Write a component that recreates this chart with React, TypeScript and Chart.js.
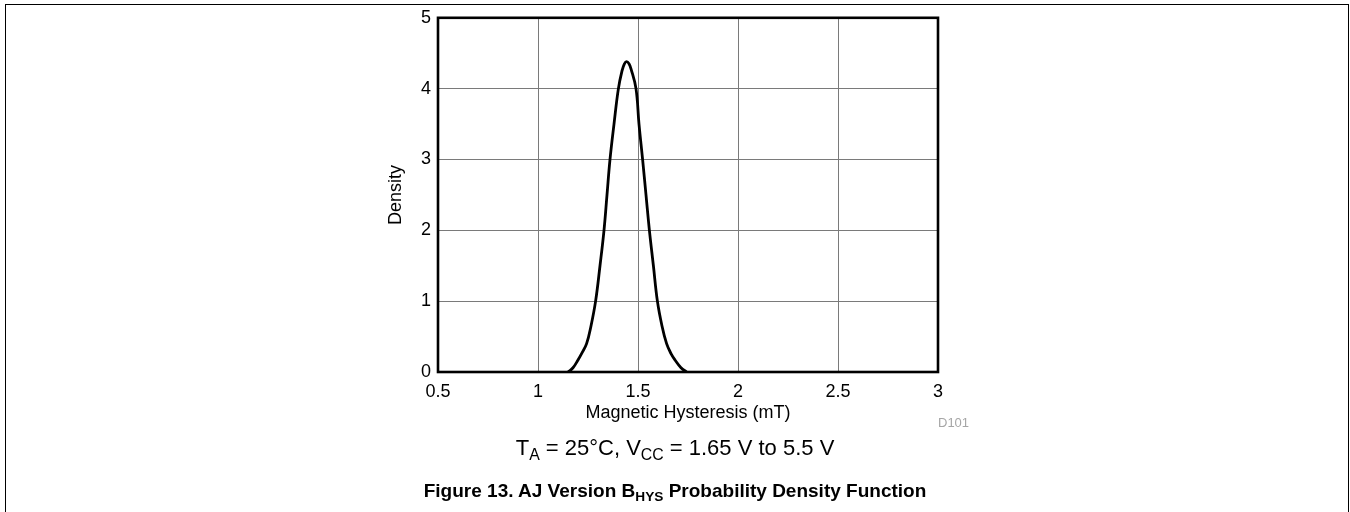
import React, { useEffect, useRef } from "react";
import { Chart, registerables } from "chart.js";

Chart.register(...registerables);

// Data
const hysteresisMT = [
  1.15, 1.175, 1.2, 1.22, 1.243, 1.265, 1.288, 1.31, 1.33, 1.345, 1.36, 1.38,
  1.402, 1.42, 1.432, 1.443, 1.455, 1.465, 1.49, 1.505, 1.523, 1.54, 1.557,
  1.577, 1.597, 1.62, 1.643, 1.665, 1.685, 1.715, 1.743,
];
const density = [
  0, 0.06, 0.17, 0.27, 0.4, 0.65, 1.0, 1.5, 2.0, 2.5, 3.0, 3.5, 4.0, 4.25,
  4.35, 4.38, 4.35, 4.28, 4.0, 3.5, 3.0, 2.5, 2.0, 1.5, 1.0, 0.65, 0.4, 0.26,
  0.17, 0.06, 0,
];
const xTickLabels = ["0.5", "1", "1.5", "2", "2.5", "3"];
const xTickValues = [0.5, 1, 1.5, 2, 2.5, 3];
const yTickLabels = ["0", "1", "2", "3", "4", "5"];

const FONT = '"Liberation Sans", Arial, Helvetica, sans-serif';

const framePlugin = {
  id: "plotFrame",
  afterDatasetsDraw(chart: any) {
    const { ctx, chartArea } = chart;
    ctx.save();
    ctx.strokeStyle = "#000";
    ctx.lineWidth = 2.6;
    ctx.strokeRect(
      chartArea.left,
      chartArea.top,
      chartArea.right - chartArea.left,
      chartArea.bottom - chartArea.top
    );
    ctx.restore();
  },
};

export default function App() {
  const canvasRef = useRef<HTMLCanvasElement | null>(null);

  useEffect(() => {
    if (!canvasRef.current) return;
    const points = hysteresisMT.map((x, i) => ({ x, y: density[i] }));
    const tickFont = { family: FONT, size: 18 };
    const chart = new Chart(canvasRef.current, {
      type: "line",
      data: {
        datasets: [
          {
            data: points,
            borderColor: "#000",
            borderWidth: 2.8,
            pointRadius: 0,
            fill: false,
            tension: 0.4,
            borderJoinStyle: "round",
          },
        ],
      },
      options: {
        animation: false,
        responsive: false,
        devicePixelRatio: 1,
        layout: { padding: { left: 378, right: 1350 - 938, top: 17, bottom: 512 - 432 } },
        plugins: { legend: { display: false }, tooltip: { enabled: false } },
        scales: {
          x: {
            type: "linear",
            min: 0.5,
            max: 3,
            afterBuildTicks: (s: any) => {
              s.ticks = xTickValues.map((v) => ({ value: v }));
            },
            afterFit: (s: any) => {
              s.height = 60;
            },
            ticks: {
              padding: 9,
              color: "#000",
              font: tickFont,
              maxRotation: 0,
              callback: (v: any) => {
                const i = xTickValues.indexOf(Number(v));
                return i >= 0 ? xTickLabels[i] : "";
              },
            },
            grid: { color: "#7a7a7a", lineWidth: 1, drawTicks: false },
            border: { display: false },
            title: {
              display: true,
              text: "Magnetic Hysteresis (mT)",
              color: "#000",
              font: { family: FONT, size: 18 },
              padding: { top: 0, bottom: 8 },
            },
          },
          y: {
            type: "linear",
            min: 0,
            max: 5,
            afterFit: (s: any) => {
              s.width = 60;
            },
            ticks: {
              stepSize: 1,
              padding: 7,
              color: "#000",
              font: tickFont,
              callback: (v: any) => yTickLabels[Number(v)] ?? "",
            },
            grid: { color: "#7a7a7a", lineWidth: 1, drawTicks: false },
            border: { display: false },
            title: {
              display: true,
              text: "Density",
              color: "#000",
              font: { family: FONT, size: 18 },
              padding: { top: 7, bottom: 0 },
            },
          },
        },
      },
      plugins: [framePlugin],
    } as any);
    return () => chart.destroy();
  }, []);

  const sub: React.CSSProperties = {
    fontSize: "0.72em",
    position: "relative",
    top: "0.32em",
  };

  return (
    <div
      style={{
        position: "absolute",
        left: 0,
        top: 0,
        width: 1350,
        height: 512,
        overflow: "hidden",
        background: "#fff",
        fontFamily: FONT,
      }}
    >
      <div
        style={{
          position: "absolute",
          left: 5,
          top: 4,
          width: 1342,
          height: 700,
          borderLeft: "1px solid #000",
          borderTop: "1px solid #000",
          borderRight: "1px solid #000",
        }}
      />
      <canvas
        ref={canvasRef}
        width={1350}
        height={512}
        style={{ position: "absolute", left: 0, top: 0, width: 1350, height: 512 }}
      />
      <div
        style={{
          position: "absolute",
          left: 938,
          top: 415,
          fontSize: 13,
          lineHeight: "16px",
          color: "#a6a6a6",
        }}
      >
        D101
      </div>
      <div
        style={{
          position: "absolute",
          left: 0,
          width: 1350,
          top: 435,
          textAlign: "center",
          fontSize: 22,
          lineHeight: "26px",
          color: "#000",
        }}
      >
        T<span style={sub}>A</span> = 25°C, V<span style={sub}>CC</span> = 1.65 V to 5.5 V
      </div>
      <div
        style={{
          position: "absolute",
          left: 0,
          width: 1350,
          top: 480,
          textAlign: "center",
          fontSize: 19,
          lineHeight: "22px",
          fontWeight: "bold",
          color: "#000",
        }}
      >
        Figure 13. AJ Version B<span style={sub}>HYS</span> Probability Density Function
      </div>
    </div>
  );
}
